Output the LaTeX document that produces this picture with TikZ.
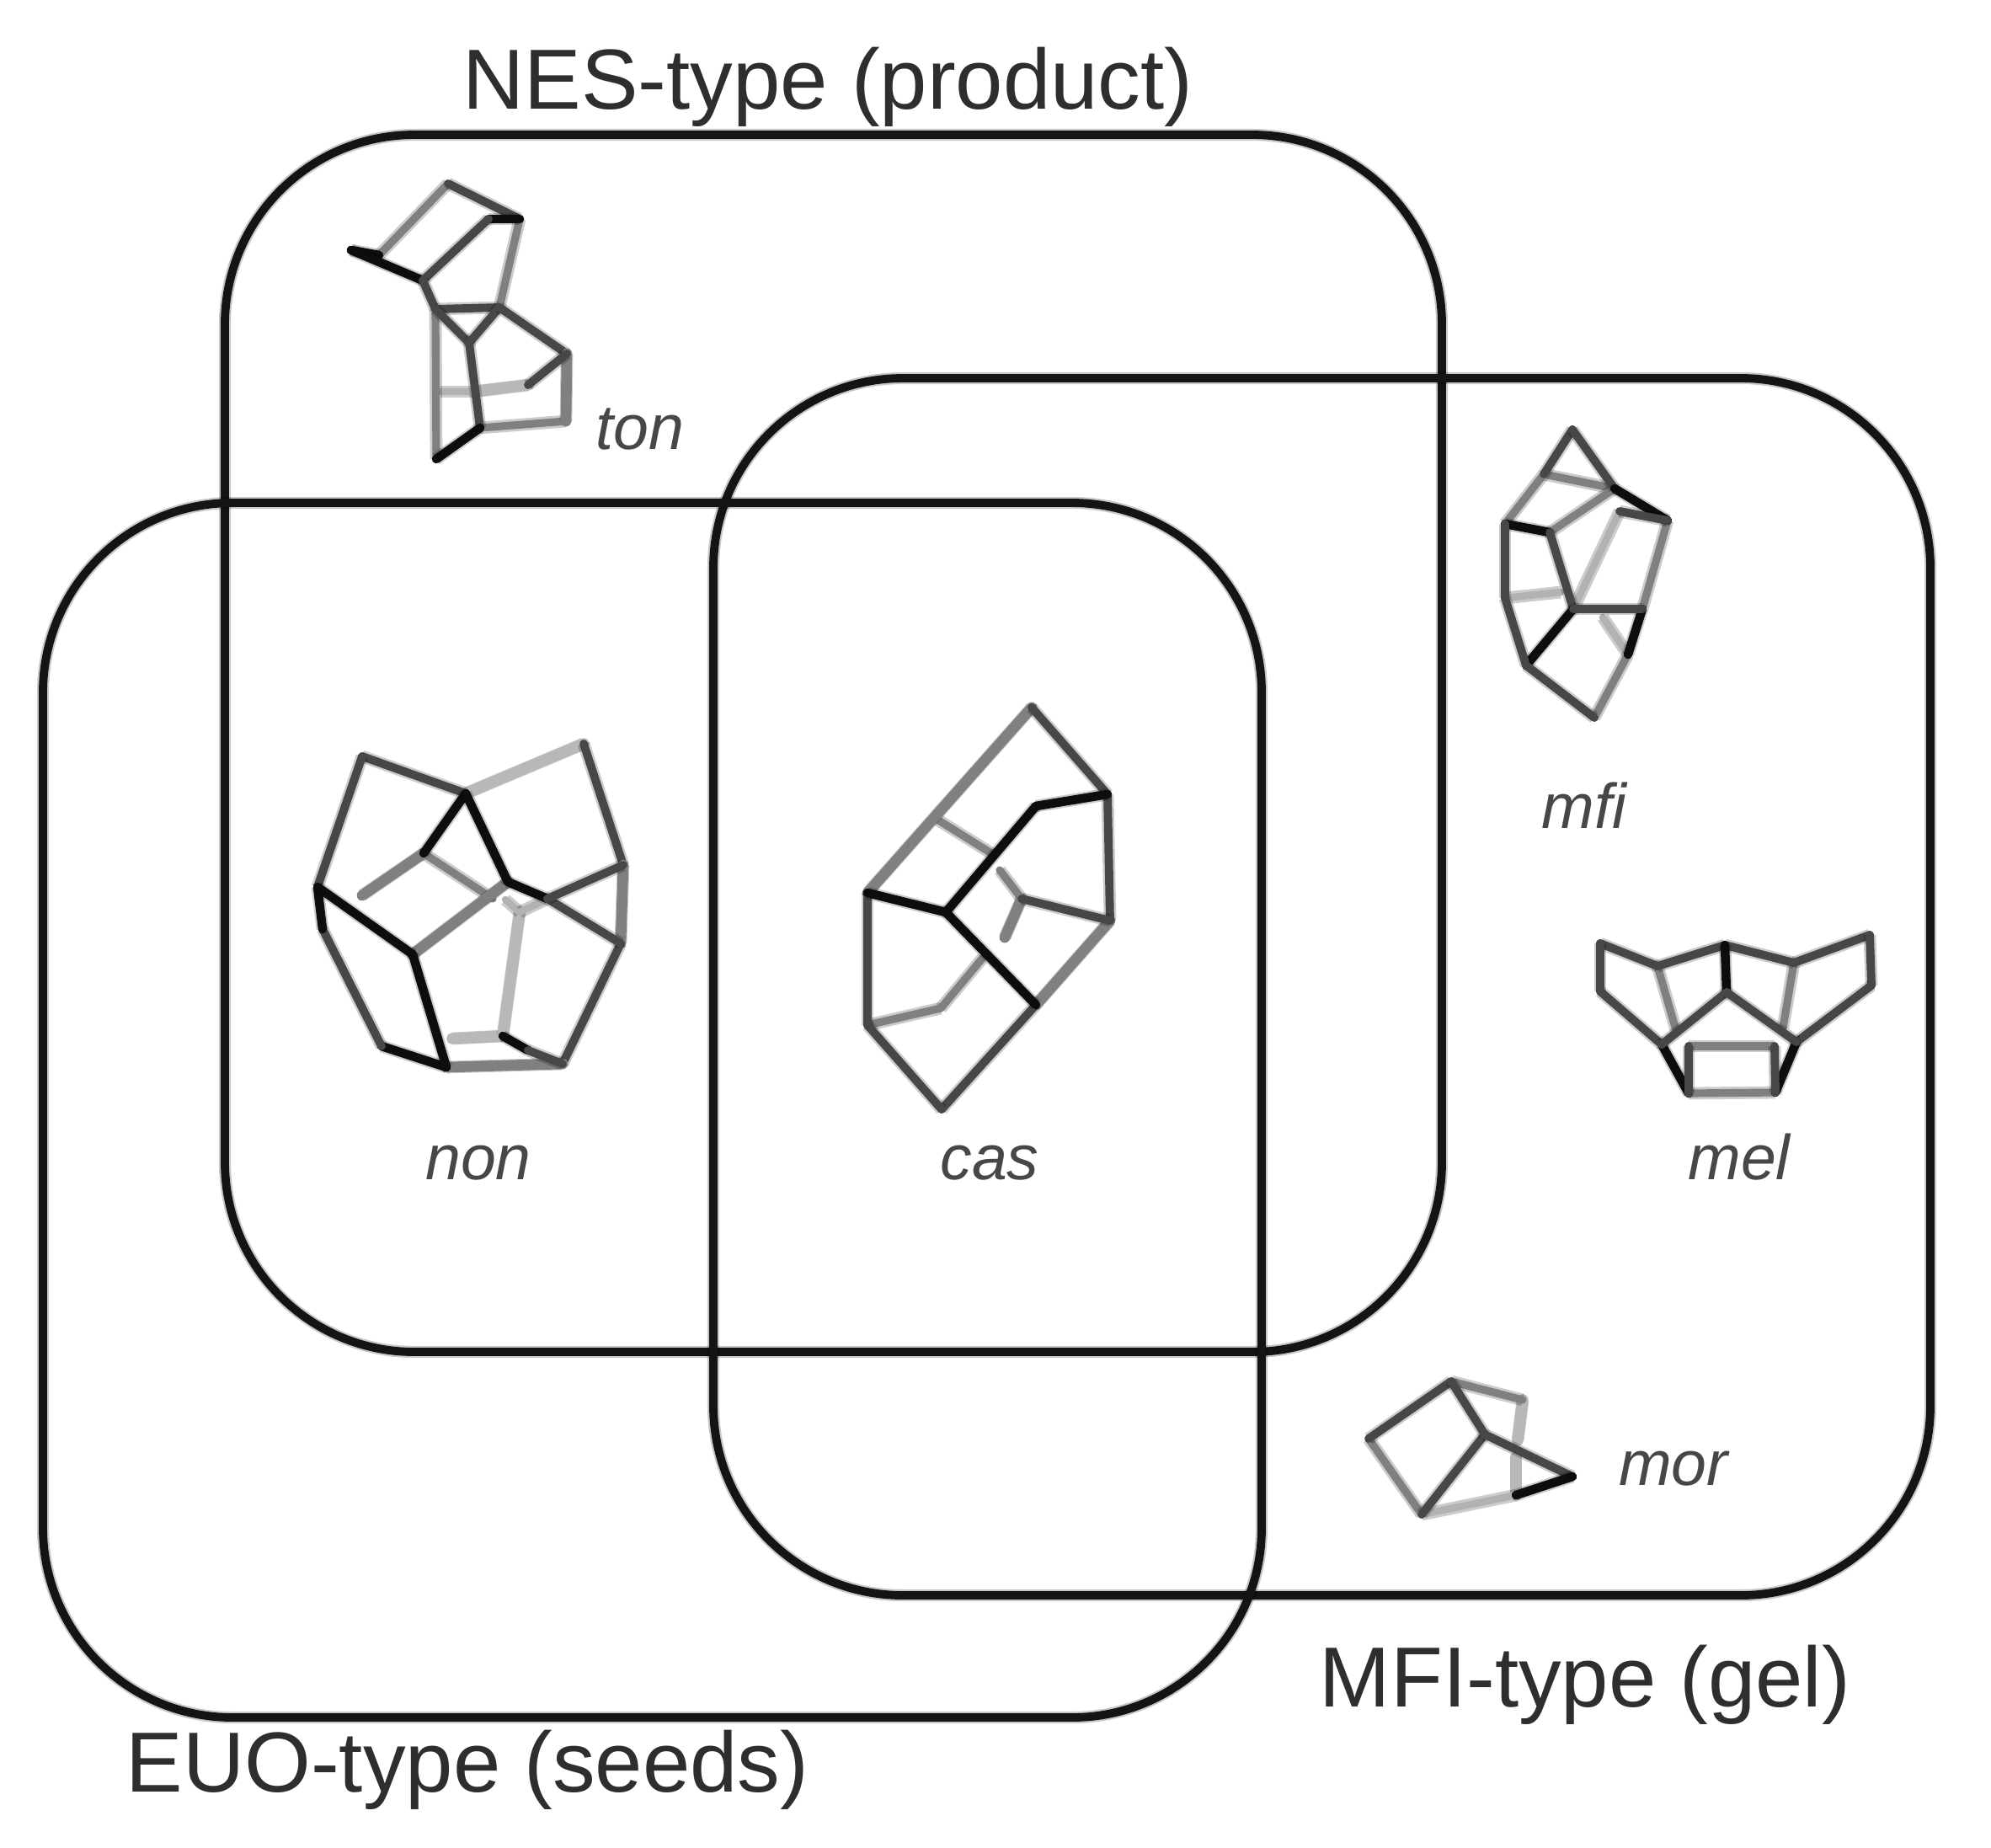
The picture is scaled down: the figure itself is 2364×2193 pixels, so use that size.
\documentclass[tikz,border=0pt]{standalone}
\usepackage{fontspec}
\setmainfont{Liberation Sans}
\tikzset{
  x=0.01cm,y=-0.01cm,
  frameline/.style={draw=black!92,line width=2.8pt,rounded corners=2.25cm,preaction={draw,draw opacity=.22,line width=4pt}},
  title/.style={text=black!82,font=\fontsize{28.8}{34}\selectfont,anchor=base,inner sep=0pt},
  label/.style={text=black!72,font=\fontsize{21.4}{26}\selectfont\itshape,anchor=base,inner sep=0pt},
  bond/.style={line cap=round,line join=round,preaction={draw,draw opacity=.2,line width=4.2pt}},
  bondK/.style={bond,draw=black!95,line width=3pt},
  bondD/.style={bond,draw=black!72,line width=2.8pt},
  bondG/.style={bond,draw=black!50,line width=2.6pt},
  bondW/.style={bond,draw=black!50,line width=3.6pt},
  bondL/.style={bond,draw=black!30,line width=2.4pt},
  bondLW/.style={bond,draw=black!28,line width=3.8pt},
}
\newcommand{\molecule}[3]{%
  \foreach \n/\px/\py in {#2} {\coordinate (#1\n) at (\px,\py);}
  \foreach \p/\q/\s in {#3} {\draw[\s] (#1\p) -- (#1\q);}
}
\begin{document}
\begin{tikzpicture}
\useasboundingbox (0,0) rectangle (2364,2193);
\fill[white] (0,0) rectangle (2364,2193);
% frames
\draw[frameline] (267,160) rectangle (1712,1605);
\draw[frameline] (847,449) rectangle (2292,1894);
\draw[frameline] (51,597) rectangle (1498,2039);
% ton
\molecule{ton}{a/417/297,b/450/303,c/532/218,d/617/260,e/580/260,f/502/333,g/517/367,h/593/365,i/557/407,j/673/420,k/672/500,l/570/508,m/518/545,n/523/465,o/562/465,p/627/457}{%
 n/o/bondL,o/p/bondLW,m/g/bondG,b/c/bondG,k/l/bondG,d/h/bondG,a/b/bondK,a/f/bondK,c/d/bondD,e/d/bondK,e/f/bondD,f/g/bondD,g/h/bondD,g/i/bondD,h/i/bondD,h/j/bondD,j/k/bondW,i/l/bondD,l/m/bondK,p/j/bondD}
% non
\molecule{non}{a/430/898,b/553/942,c/693/883,d/740/1027,e/737/1120,f/668/1263,g/530/1267,h/453/1242,i/377/1053,j/490/1133,k/503/1013,l/430/1063,m/603/1047,n/650/1067,o/617/1083,p/597/1230,q/537/1233,r/383/1103,s/600/1068,t/585/1067,u/627/1247}{%
 q/p/bondLW,o/p/bondLW,s/o/bondL,o/n/bondL,k/t/bondG,k/l/bondW,j/m/bondW,b/c/bondLW,a/b/bondD,c/d/bondD,d/e/bondW,e/f/bondD,f/g/bondW,g/h/bondK,h/r/bondD,r/i/bondK,i/a/bondD,i/j/bondK,j/g/bondK,b/k/bondK,b/m/bondK,m/n/bondK,n/e/bondD,n/d/bondD,p/u/bondK,u/f/bondD}
% cas
\molecule{cas}{a/1225/840,b/1315/943,c/1318/1093,d/1230/1193,e/1118/1317,f/1030/1217,g/1030/1060,h/1123/1083,i/1230/957,j/1113/973,k/1213/1067,m/1167/1137,n/1117/1197,t/1177/1013,u/1187/1033,v/1193/1113}{%
 j/t/bondG,u/k/bondG,k/v/bondW,m/n/bondG,n/f/bondG,g/a/bondW,a/b/bondD,c/d/bondW,b/c/bondD,d/e/bondD,e/f/bondD,f/g/bondD,k/c/bondD,b/i/bondK,i/h/bondK,h/g/bondK,h/d/bondK}
% mfi
\molecule{mfi}{a/1867/510,b/1980/618,c/1950/723,d/1933/777,e/1893/852,f/1812/790,g/1787/710,h/1787/622,i/1840/632,j/1868/723,k/1833/563,l/1917/580,m/1923/607,o/1853/703,p/1903/733}{%
 m/j/bondL,g/o/bondL,p/d/bondL,k/l/bondG,i/l/bondG,h/k/bondG,b/c/bondG,d/e/bondG,k/a/bondD,a/l/bondD,l/b/bondK,m/b/bondD,h/i/bondK,i/j/bondD,j/f/bondK,f/g/bondD,g/h/bondD,c/d/bondK,e/f/bondD,j/c/bondD}
% mel
\molecule{mel}{a/1900/1120,b/1968/1147,c/2048/1122,d/2130/1143,e/2220/1110,f/2222/1170,g/2133/1237,h/2108/1297,i/2005/1298,j/1973/1240,k/1900/1177,l/2050/1178,m/2005/1242,n/2107/1242,o/1990/1223,p/2117/1220}{%
 b/o/bondG,d/p/bondG,m/n/bondG,h/i/bondG,a/b/bondD,b/c/bondD,c/d/bondD,d/e/bondD,e/f/bondD,f/g/bondD,g/h/bondK,i/j/bondK,j/k/bondD,k/a/bondD,c/l/bondK,l/j/bondD,l/g/bondD,m/i/bondD,n/h/bondD}
% mor
\molecule{mor}{a/1723/1640,b/1625/1708,c/1688/1798,d/1763/1703,e/1808/1662,f/1867/1753,g/1800/1775,h/1802/1710,w/1800/1730}{%
 e/h/bondLW,g/w/bondLW,g/c/bondL,a/e/bondG,b/c/bondG,a/b/bondD,c/d/bondD,d/a/bondD,d/f/bondD,f/g/bondK}
% labels
\node[title] (nes) at (983,129) {NES-type (product)};
\node[title] (mfilab) at (1882,2026) {MFI-type (gel)};
\node[title] (euo) at (555,2127) {EUO-type (seeds)};
\node[label] (ton) at (760,533) {ton};
\node[label] (non) at (568,1400) {non};
\node[label] (cas) at (1175,1400) {cas};
\node[label] (mfi) at (1881,983) {mfi};
\node[label] (mel) at (2065,1400) {mel};
\node[label] (mor) at (1987,1763) {mor};
\end{tikzpicture}
\end{document}
